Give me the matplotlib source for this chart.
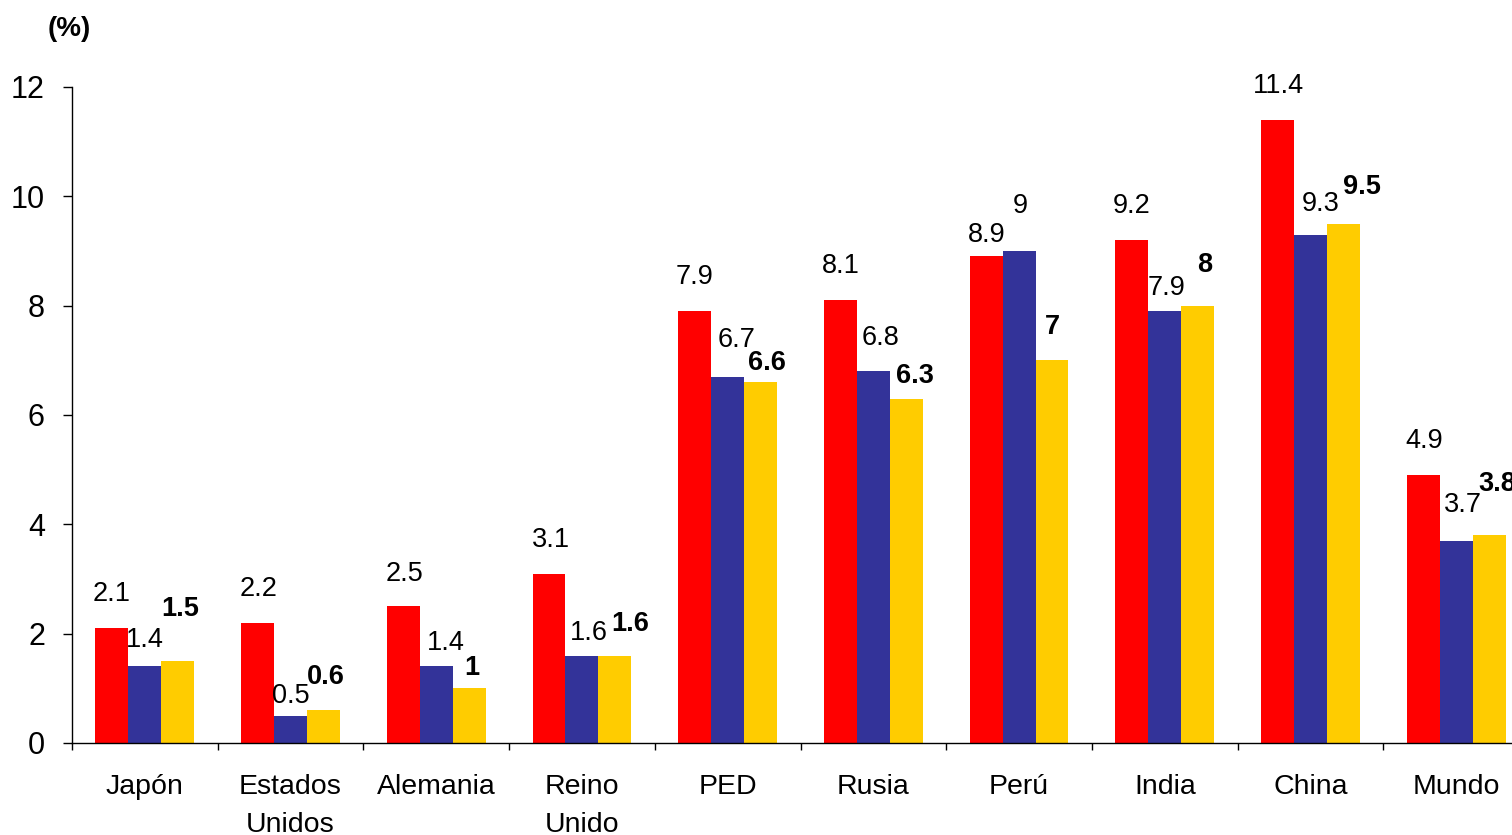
import matplotlib.pyplot as plt
import numpy as np

plt.rcParams["font.family"] = ["Liberation Sans", "DejaVu Sans"]

# ---------------------------------------------------------------------------
# Data
# ---------------------------------------------------------------------------
categories = ["Japón", "Estados\nUnidos", "Alemania", "Reino\nUnido", "PED",
              "Rusia", "Perú", "India", "China", "Mundo"]
serie_roja = [2.1, 2.2, 2.5, 3.1, 7.9, 8.1, 8.9, 9.2, 11.4, 4.9]
serie_azul = [1.4, 0.5, 1.4, 1.6, 6.7, 6.8, 9.0, 7.9, 9.3, 3.7]
serie_amarilla = [1.5, 0.6, 1.0, 1.6, 6.6, 6.3, 7.0, 8.0, 9.5, 3.8]
y_ticks = [0, 2, 4, 6, 8, 10, 12]

# label nudges in pixels (dx, dy above bar top to baseline)
nudge_roja = [(0, 27), (1, 27), (1, 25), (2, 27), (0, 27),
              (0, 27), (1, 14), (0, 27), (1, 27), (1, 27)]
nudge_azul = [(0, 19), (0, 13), (10, 16), (7, 16), (9, 30),
              (7, 26), (1, 38), (2, 16), (10, 24), (7, 29)]
nudge_amarilla = [(2, 45), (2, 26), (3, 13), (15, 25), (6, 12),
                  (9, 16), (0, 26), (7, 34), (19, 30), (8, 44)]

_COLORS = ["#FF0000", "#333399", "#FFCC00"]

# ---------------------------------------------------------------------------
# Plot
# ---------------------------------------------------------------------------
fig = plt.figure(figsize=(15.12, 8.35), dpi=100)
ax = fig.add_axes([72 / 1512, 92 / 835, 1457 / 1512, 656 / 835])

x = np.arange(len(categories)) + 0.5
w = 0.226
series = [
    (serie_roja, -w, nudge_roja, "normal"),
    (serie_azul, 0, nudge_azul, "normal"),
    (serie_amarilla, w, nudge_amarilla, "bold"),
]

for (vals, off, nudges, weight), color in zip(series, _COLORS):
    ax.bar(x + off, vals, width=w, color=color, linewidth=0)
    for xi, v, (dx, dy) in zip(x + off, vals, nudges):
        ax.annotate(f"{v:g}", xy=(xi, v), xytext=(dx, dy),
                    textcoords="offset pixels", ha="center", va="baseline",
                    fontsize=19.5, fontweight=weight, color="black")

ax.set_xlim(0, len(categories))
ax.set_ylim(0, 12)
ax.set_yticks(y_ticks)
ax.tick_params(axis="y", labelsize=22, length=6.5, width=1, pad=13)

# boundary ticks (no labels) + category labels at centres
ax.set_xticks(np.arange(len(categories) + 1))
ax.set_xticklabels([])
ax.set_xticks(x, minor=True)
ax.set_xticklabels(categories, minor=True, fontsize=20.5, linespacing=1.6)
ax.tick_params(axis="x", which="major", length=5, width=1)
ax.tick_params(axis="x", which="minor", length=0, pad=22)

for side in ["top", "right"]:
    ax.spines[side].set_visible(False)
for side in ["left", "bottom"]:
    ax.spines[side].set_linewidth(1)
    ax.spines[side].set_color("black")

fig.text(69 / 1512, 1 - 29 / 835, "(%)", fontsize=20, fontweight="bold",
         ha="center", va="center")

fig.savefig("out.png", dpi=100)
